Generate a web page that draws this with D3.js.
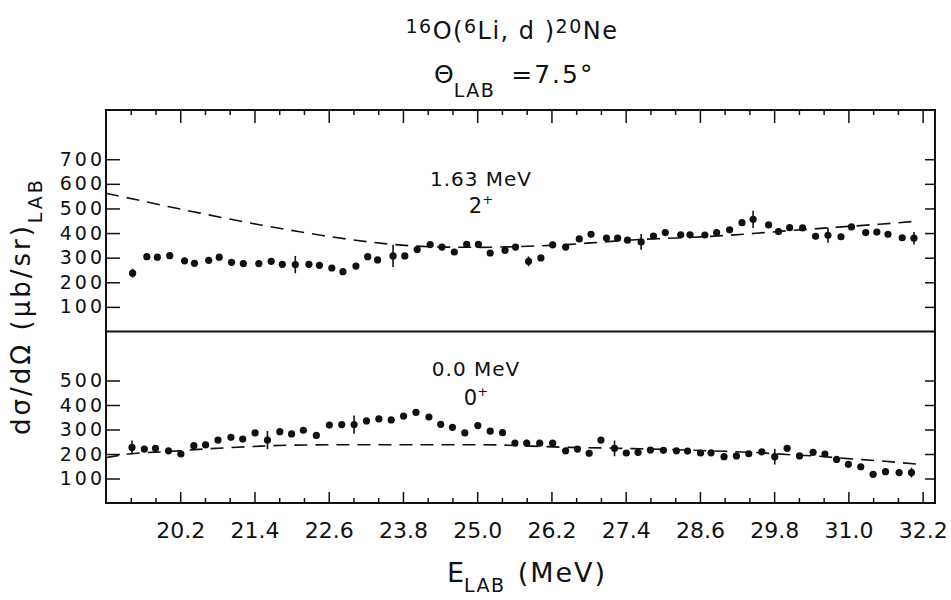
<!DOCTYPE html>
<html>
<head>
<meta charset="utf-8">
<script src="https://cdn.jsdelivr.net/npm/d3@7"></script>
<style>
  body { margin: 0; background: #fff; }
  svg { display: block; font-family: "DejaVu Sans", sans-serif; }
</style>
</head>
<body>
<svg width="951" height="600"></svg>
<script>
// 1.63 MeV (2+) state, top panel
const energy163 = [19.43, 19.66, 19.83, 20.03, 20.27, 20.43, 20.66, 20.83, 21.03, 21.22,
    21.47, 21.67, 21.85, 22.06, 22.28, 22.45, 22.65, 22.83, 23.04, 23.23,
    23.39, 23.64, 23.83, 24.03, 24.24, 24.43, 24.63, 24.83, 25.02, 25.21,
    25.45, 25.62, 25.83, 26.03, 26.22, 26.43, 26.65, 26.84, 27.09, 27.27,
    27.43, 27.65, 27.85, 28.04, 28.29, 28.44, 28.68, 28.87, 29.08, 29.28,
    29.46, 29.71, 29.87, 30.05, 30.26, 30.47, 30.67, 30.88, 31.05, 31.28,
    31.46, 31.64, 31.87, 32.06];
const sigma163 = [237, 304, 302, 308, 287, 277, 289, 302, 281, 276,
    276, 285, 273, 272, 273, 269, 258, 243, 266, 304,
    291, 307, 307, 333, 353, 343, 323, 354, 354, 319,
    330, 343, 285, 299, 352, 343, 376, 395, 380, 379,
    371, 364, 388, 402, 393, 393, 392, 402, 413, 442,
    456, 433, 406, 422, 421, 387, 391, 385, 425, 402,
    404, 395, 381, 379];
const errIndex163 = [0, 13, 21, 32, 41, 50, 56, 63];
const errSize163 = [18, 35, 45, 20, 32, 35, 30, 25];
const fitEnergy163 = [19.0, 19.5, 20.0, 20.5, 21.0, 21.5, 22.0, 22.5, 23.0, 23.5, 24.0, 24.5, 25.0,
    25.5, 26.0, 26.5, 27.0, 27.5, 28.0, 28.5, 29.0, 29.5, 30.0, 30.5, 31.0, 31.5, 32.1];
const fit163 = [562, 535, 508, 482, 457, 433, 411, 390, 372, 357, 347, 343, 342,
    344, 348, 354, 363, 372, 378, 383, 390, 399, 409, 418, 427, 436, 448];

// ground state (0+), bottom panel
const energy00 = [19.42, 19.62, 19.80, 20.01, 20.21, 20.42, 20.61, 20.81, 21.02, 21.21,
    21.41, 21.61, 21.81, 22.00, 22.19, 22.40, 22.61, 22.81, 23.01, 23.21,
    23.41, 23.61, 23.81, 24.01, 24.22, 24.41, 24.60, 24.80, 25.01, 25.21,
    25.41, 25.61, 25.80, 26.01, 26.22, 26.43, 26.62, 26.81, 27.00, 27.22,
    27.41, 27.60, 27.80, 28.01, 28.22, 28.40, 28.61, 28.78, 28.99, 29.19,
    29.39, 29.60, 29.81, 30.01, 30.21, 30.43, 30.62, 30.81, 31.00, 31.20,
    31.40, 31.60, 31.82, 32.02];
const sigma00 = [227, 220, 223, 213, 200, 234, 237, 257, 268, 261,
    286, 257, 291, 282, 297, 276, 318, 320, 320, 335,
    343, 339, 355, 370, 351, 321, 309, 286, 316, 293,
    287, 245, 244, 244, 244, 213, 220, 203, 257, 223,
    204, 207, 216, 215, 213, 212, 204, 205, 189, 192,
    201, 209, 189, 223, 192, 207, 200, 178, 158, 148,
    117, 128, 124, 124];
const errIndex00 = [0, 11, 18, 32, 39, 52, 63];
const errSize00 = [28, 37, 37, 15, 32, 32, 20];
const fitEnergy00 = [19.0, 19.25, 19.5, 20.0, 20.5, 21.0, 21.5, 22.0, 23.0, 24.0, 25.0, 25.5,
    26.0, 26.5, 27.0, 27.5, 28.0, 28.5, 29.0, 29.5, 30.0, 30.5, 31.0, 31.5, 32.1];
const fit00 = [185, 196, 203, 210, 219, 226, 232, 236, 238, 238, 238, 236,
    231, 227, 225, 222, 219, 215, 211, 206, 198, 191, 181, 172, 159];

// axis ticks
const xMajor = [20.2, 21.4, 22.6, 23.8, 25.0, 26.2, 27.4, 28.6, 29.8, 31.0, 32.2];
const xMajorLabels = ["20.2", "21.4", "22.6", "23.8", "25.0", "26.2", "27.4", "28.6", "29.8", "31.0", "32.2"];
const xMinor = [19.4, 19.8, 20.6, 21.0, 21.8, 22.2, 23.0, 23.4, 24.2, 24.6, 25.4, 25.8,
    26.6, 27.0, 27.8, 28.2, 29.0, 29.4, 30.2, 30.6, 31.4, 31.8];
const yTicks163 = [100, 200, 300, 400, 500, 600, 700];
const yTicks00 = [100, 200, 300, 400, 500];

let svg = d3.select("svg");
const plotLeft = 106, plotRight = 935, plotTop = 110, plotMid = 331.5, plotBottom = 503;

let x = d3.scaleLinear().domain([19.0, 32.4]).range([plotLeft, plotRight]);
let yTop = d3.scaleLinear().domain([0, 900]).range([plotMid, plotTop]);
let yBot = d3.scaleLinear().domain([0, 700]).range([plotBottom, plotMid]);

function drawPanel(E, V, errIdx, errSize, fitE, fitV, y, ticks) {
    let g = svg.append("g");

    // dashed calculation
    let line = d3.line()
        .x((d, i) => x(fitE[i]))
        .y(d => y(d))
        .curve(d3.curveMonotoneX);
    g.append("path")
        .attr("d", line(fitV))
        .attr("fill", "none")
        .attr("stroke", "#111")
        .attr("stroke-width", 1.6)
        .attr("stroke-dasharray", "13,8");

    // error bars
    g.selectAll(".err")
        .data(errIdx)
        .enter().append("line")
        .attr("x1", i => x(E[i]))
        .attr("x2", i => x(E[i]))
        .attr("y1", (i, k) => y(V[i] - errSize[k]))
        .attr("y2", (i, k) => y(V[i] + errSize[k]))
        .attr("stroke", "#111")
        .attr("stroke-width", 1.6);

    // data points
    g.selectAll(".pt")
        .data(V)
        .enter().append("circle")
        .attr("cx", (d, i) => x(E[i]))
        .attr("cy", d => y(d))
        .attr("r", 3.6)
        .attr("fill", "#111");

    // left axis, ticks inside
    g.append("g")
        .attr("transform", "translate(" + plotLeft + ",0)")
        .call(d3.axisLeft(y).tickValues(ticks).tickSizeInner(-14).tickSizeOuter(0).tickPadding(1))
        .call(a => a.select(".domain").remove())
        .call(a => a.selectAll("line").attr("stroke", "#111").attr("stroke-width", 1.5))
        .call(a => a.selectAll("text")
            .attr("font-family", "DejaVu Sans, sans-serif")
            .attr("font-size", "19px")
            .attr("letter-spacing", "3px")
            .attr("fill", "#111"));

    // right axis, ticks inside
    g.append("g")
        .attr("transform", "translate(" + plotRight + ",0)")
        .call(d3.axisRight(y).tickValues(ticks).tickSizeInner(-10).tickSizeOuter(0).tickFormat(""))
        .call(a => a.select(".domain").remove())
        .call(a => a.selectAll("line").attr("stroke", "#111").attr("stroke-width", 1.5));
}

drawPanel(energy163, sigma163, errIndex163, errSize163, fitEnergy163, fit163, yTop, yTicks163);
drawPanel(energy00, sigma00, errIndex00, errSize00, fitEnergy00, fit00, yBot, yTicks00);

// top edge ticks (pointing down)
svg.append("g")
    .attr("transform", "translate(0," + plotTop + ")")
    .call(d3.axisBottom(x).tickValues(xMajor).tickSizeInner(13).tickSizeOuter(0).tickFormat(""))
    .call(a => a.select(".domain").remove())
    .call(a => a.selectAll("line").attr("stroke", "#111").attr("stroke-width", 1.5));
svg.append("g")
    .attr("transform", "translate(0," + plotTop + ")")
    .call(d3.axisBottom(x).tickValues(xMinor).tickSizeInner(5).tickSizeOuter(0).tickFormat(""))
    .call(a => a.select(".domain").remove())
    .call(a => a.selectAll("line").attr("stroke", "#111").attr("stroke-width", 1.5));

// bottom edge ticks (pointing up) with labels below
svg.append("g")
    .attr("transform", "translate(0," + plotBottom + ")")
    .call(d3.axisBottom(x).tickValues(xMajor).tickSizeInner(-11).tickSizeOuter(0).tickPadding(19)
        .tickFormat((d, i) => xMajorLabels[i]))
    .call(a => a.select(".domain").remove())
    .call(a => a.selectAll("line").attr("stroke", "#111").attr("stroke-width", 1.5))
    .call(a => a.selectAll("text")
        .attr("font-family", "DejaVu Sans, sans-serif")
        .attr("font-size", "22px")
        .attr("fill", "#111"));
svg.append("g")
    .attr("transform", "translate(0," + plotBottom + ")")
    .call(d3.axisBottom(x).tickValues(xMinor).tickSizeInner(-5).tickSizeOuter(0).tickFormat(""))
    .call(a => a.select(".domain").remove())
    .call(a => a.selectAll("line").attr("stroke", "#111").attr("stroke-width", 1.5));

// frame and panel divider
svg.append("rect")
    .attr("x", plotLeft).attr("y", plotTop)
    .attr("width", plotRight - plotLeft).attr("height", plotBottom - plotTop)
    .attr("fill", "none").attr("stroke", "#111").attr("stroke-width", 2);
svg.append("line")
    .attr("x1", plotLeft).attr("x2", plotRight)
    .attr("y1", plotMid).attr("y2", plotMid)
    .attr("stroke", "#111").attr("stroke-width", 2);

// state labels
function stateLabel(cx, y1, text1, y2, text2) {
    svg.append("text")
        .attr("x", cx).attr("y", y1)
        .attr("text-anchor", "middle")
        .attr("font-size", "20px")
        .attr("letter-spacing", "1px")
        .attr("fill", "#111")
        .text(text1);
    let t = svg.append("text")
        .attr("x", cx).attr("y", y2)
        .attr("text-anchor", "middle")
        .attr("font-size", "21px")
        .attr("fill", "#111");
    t.append("tspan").text(text2);
    t.append("tspan").attr("dy", -9).attr("font-size", "13px").text("+");
}
stateLabel(481, 186, "1.63 MeV", 213, "2");
stateLabel(476, 376, "0.0 MeV", 405, "0");

// title
let title = svg.append("text")
    .attr("x", 512).attr("y", 39)
    .attr("text-anchor", "middle")
    .attr("font-size", "24px")
    .attr("letter-spacing", "1.5px")
    .attr("fill", "#111");
title.append("tspan").attr("font-size", "19px").attr("dy", -6).text("16");
title.append("tspan").attr("dy", 6).text("O(");
title.append("tspan").attr("font-size", "19px").attr("dy", -6).text("6");
title.append("tspan").attr("dy", 6).text("Li, d )");
title.append("tspan").attr("font-size", "19px").attr("dy", -6).text("20");
title.append("tspan").attr("dy", 6).text("Ne");

let theta = svg.append("text")
    .attr("x", 434).attr("y", 83)
    .attr("font-size", "25px")
    .attr("fill", "#111");
theta.append("tspan").text("\u0398");
theta.append("tspan").attr("font-size", "19px").attr("letter-spacing", "1.5px").attr("dy", 14).text("LAB");
theta.append("tspan").attr("dy", -14).attr("dx", 16).attr("letter-spacing", "2px").text("=7.5\u00b0");

// x axis title
let xt = svg.append("text")
    .attr("x", 447).attr("y", 582)
    .attr("font-size", "27px")
    .attr("fill", "#111");
xt.append("tspan").text("E");
xt.append("tspan").attr("font-size", "19px").attr("letter-spacing", "1.5px").attr("dy", 10).text("LAB");
xt.append("tspan").attr("dy", -10).attr("dx", 12).attr("letter-spacing", "2px").text("(MeV)");

// y axis title
let yt = svg.append("text")
    .attr("transform", "translate(30,306) rotate(-90)")
    .attr("text-anchor", "middle")
    .attr("font-size", "26px")
    .attr("letter-spacing", "3px")
    .attr("fill", "#111");
yt.append("tspan").text("d\u03c3/d\u03a9 (\u03bcb/sr)");
yt.append("tspan").attr("font-size", "19px").attr("dy", 12).text("LAB");
</script>
</body>
</html>
